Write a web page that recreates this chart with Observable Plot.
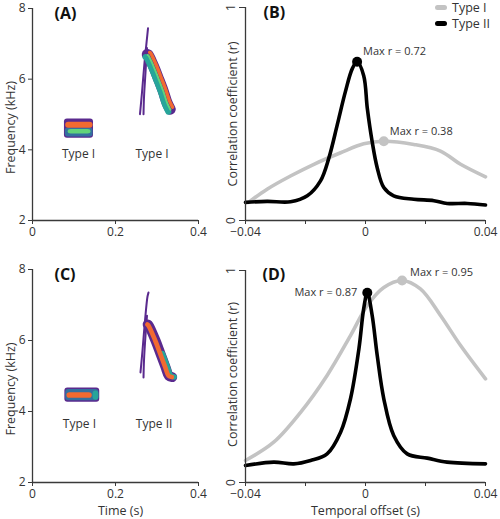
<!DOCTYPE html>
<html>
<head>
<meta charset="utf-8">
<script src="https://cdn.jsdelivr.net/npm/d3@7"></script>
<script src="https://cdn.jsdelivr.net/npm/@observablehq/plot@0.6"></script>
<style>
  body { margin: 0; background: #fff; }
  #wrap { position: relative; width: 500px; height: 519px; font-family: 'Open Sans', sans-serif; overflow: hidden; }
  #wrap > .panel { position: absolute; }
  .lg { position: absolute; left: 435px; font-size: 12.5px; line-height: 14px; color: #333; white-space: nowrap; }
  .sw { display: inline-block; width: 12px; height: 5px; border-radius: 3px; vertical-align: middle; margin-right: 5px; position: relative; top: -1px; }
</style>
</head>
<body>
<div id="wrap"></div>
<script>
// ---------------- data ----------------
const timeTicks = [0, 0.2, 0.4];
const freqTicks = [2, 4, 6, 8];
const offsetTicks = [-0.04, -0.02, 0, 0.02, 0.04];
const offsetLabelTicks = [-0.04, 0, 0.04];
const rTicks = [0, 1];
const seriesNames = ["Type I", "Type II"];

// Panel A spectrogram: first note (layered band), time (s) / frequency (kHz)
const A_note_layer = ["outline", "inner", "green", "orange"];
const A_note_t1 = [0.077, 0.079, 0.086, 0.080];
const A_note_t2 = [0.147, 0.146, 0.141, 0.146];
const A_note_f1 = [4.33, 4.36, 4.45, 4.61];
const A_note_f2 = [4.87, 4.62, 4.575, 4.78];
// Panel A second note: thin upsweep strokes + downsweep ridge
const A_up1_t = [0.259, 0.2639, 0.2699, 0.2759, 0.2783];
const A_up1_f = [5.01, 5.63, 6.47, 7.16, 7.44];
const A_up2_t = [0.2675, 0.2687, 0.2723, 0.2759];
const A_up2_f = [5.01, 5.49, 6.19, 6.88];
const A_ridge_t = [0.2765, 0.2783, 0.2904, 0.3024, 0.3145, 0.3246, 0.3318];
const A_ridge_f = [6.70, 6.69, 6.40, 6.05, 5.68, 5.32, 5.15];
const A_label_text = ["Type I", "Type I"];
const A_label_t = [0.111, 0.288];
const A_label_f = [3.87, 3.87];

// Panel C spectrogram
const C_note_layer = ["outline", "inner", "orange", "teal"];
const C_note_t1 = [0.078, 0.080, 0.083, 0.146];
const C_note_t2 = [0.162, 0.160, 0.144, 0.160];
const C_note_f1 = [4.26, 4.30, 4.37, 4.32];
const C_note_f2 = [4.66, 4.62, 4.53, 4.58];
const C_up1_t = [0.2602, 0.2651, 0.2711, 0.2771, 0.2795];
const C_up1_f = [5.10, 5.72, 6.56, 7.24, 7.35];
const C_up2_t = [0.2675, 0.2687, 0.2723, 0.2759];
const C_up2_f = [4.96, 5.44, 6.14, 6.70];
const C_ridge_t = [0.2775, 0.2802, 0.2964, 0.3084, 0.3205, 0.3284, 0.3366];
const C_ridge_f = [6.45, 6.42, 6.00, 5.63, 5.25, 5.01, 4.97];
const C_label_text = ["Type I", "Type II"];
const C_label_t = [0.113, 0.293];
const C_label_f = [3.63, 3.63];

// Panel B cross-correlation (temporal offset s, r)
const B_typeI_t = [-0.039, -0.0328, -0.025, -0.0172, -0.0083, -0.0006, 0.0061, 0.0161, 0.025, 0.0317, 0.04];
const B_typeI_r = [0.085, 0.147, 0.209, 0.264, 0.318, 0.36, 0.372, 0.357, 0.326, 0.264, 0.205];
const B_typeII_t = [-0.04, -0.0328, -0.025, -0.0194, -0.015, -0.0122, -0.0094, -0.0067, -0.0044, -0.0028, -0.0006, 0.0006, 0.0022, 0.0039, 0.0061, 0.0094, 0.0161, 0.0228, 0.0272, 0.0339, 0.04];
const B_typeII_r = [0.085, 0.09, 0.088, 0.116, 0.186, 0.294, 0.45, 0.605, 0.713, 0.745, 0.68, 0.527, 0.372, 0.248, 0.155, 0.116, 0.10, 0.093, 0.08, 0.08, 0.073];
const B_max_t = [0.0061, -0.0028];
const B_max_r = [0.372, 0.745];
const B_max_text = ["Max r = 0.38", "Max r = 0.72"];

// Panel D cross-correlation
const D_typeI_t = [-0.04, -0.0306, -0.0217, -0.0128, -0.005, 0.0006, 0.0061, 0.0122, 0.0183, 0.025, 0.0317, 0.04];
const D_typeI_r = [0.104, 0.19, 0.33, 0.505, 0.693, 0.835, 0.92, 0.953, 0.913, 0.788, 0.646, 0.489];
const D_typeII_t = [-0.04, -0.0306, -0.0239, -0.0183, -0.0128, -0.0083, -0.005, -0.0022, -0.0006, 0.0006, 0.0022, 0.0039, 0.0061, 0.0094, 0.0139, 0.0206, 0.0272, 0.04];
const D_typeII_r = [0.08, 0.096, 0.088, 0.104, 0.135, 0.237, 0.395, 0.63, 0.82, 0.895, 0.79, 0.60, 0.395, 0.222, 0.135, 0.115, 0.096, 0.088];
const D_max_t = [0.0122, 0.0006];
const D_max_r = [0.953, 0.895];
const D_max_text = ["Max r = 0.95", "Max r = 0.87"];

// ---------------- styles ----------------
const FONT = "'Open Sans', sans-serif";
const AXIS = "#3a3a3a";
const TXT = "#333";
const seriesColor = {"Type I": "#c3c3c3", "Type II": "#000000"};
const specColor = {outline: "#5a2a8e", inner: "#33709f", teal: "#27a59a", green: "#62d37a", orange: "#f26a30"};
const PURPLE = specColor.outline;

const pts = (t, f) => t.map((x, i) => ({t: x, v: f[i]}));
const numFmt = d => d === 0 ? "0" : (d < 0 ? "\u2212" + Math.abs(d) : String(d));

function rectRows(layer, t1, t2, f1, f2) {
  return layer.map((l, i) => ({layer: l, t1: t1[i], t2: t2[i], f1: f1[i], f2: f2[i]}));
}

function spectro(o) {
  const ridge = pts(o.ridgeT, o.ridgeF);
  const lineOpts = {x: "t", y: "v", curve: "catmull-rom", strokeLinecap: "round", strokeLinejoin: "round"};
  const ridgeMarks = o.ridgeLayers.map(L =>
    Plot.line(L.from ? ridge.slice(L.from) : ridge, {...lineOpts, stroke: specColor[L.c], strokeWidth: L.w, dx: L.dx || 0, dy: L.dy || 0}));
  return Plot.plot({
    width: 250, height: o.height,
    marginTop: o.mt, marginBottom: o.mb, marginLeft: 32, marginRight: 52,
    style: {background: "transparent", overflow: "visible", fontFamily: FONT, color: AXIS},
    x: {domain: [0, 0.4]},
    y: {domain: [2, 8]},
    marks: [
      Plot.rect(rectRows(o.layer, o.t1, o.t2, o.f1, o.f2), {x1: "t1", x2: "t2", y1: "f1", y2: "f2", fill: d => specColor[d.layer], rx: 3}),
      Plot.line(pts(o.up1T, o.up1F), {...lineOpts, stroke: PURPLE, strokeWidth: 2}),
      Plot.line(pts(o.up2T, o.up2F), {...lineOpts, stroke: PURPLE, strokeWidth: 2}),
      ...ridgeMarks,
      Plot.text(o.labelText, {x: (d, i) => o.labelT[i], y: (d, i) => o.labelF[i], text: d => d, fontSize: 12, fill: TXT, textAnchor: "middle", lineAnchor: "middle"}),
      Plot.ruleX([0], {stroke: AXIS, strokeWidth: 1.3}),
      Plot.ruleY([2], {stroke: AXIS, strokeWidth: 1.3}),
      Plot.axisX({ticks: timeTicks, tickSize: 4, tickPadding: o.xPad, fontSize: 12, tickFormat: numFmt, label: null, fill: TXT}),
      Plot.axisY({ticks: freqTicks, tickSize: 4, tickPadding: 3, fontSize: 12, tickFormat: numFmt, label: null, fill: TXT}),
      Plot.text(["Frequency (kHz)"], {frameAnchor: "left", dx: -22, dy: 13, rotate: -90, fontSize: 12.5, fill: TXT, textAnchor: "middle", lineAnchor: "middle"}),
      Plot.text([o.tag], {frameAnchor: "top-left", dx: o.tagDx, dy: o.tagDy, fontSize: 16, fontWeight: "bold", fill: "#111", textAnchor: "start", lineAnchor: "middle"}),
      ...(o.xTitle ? [Plot.text([o.xTitle], {frameAnchor: "bottom", dx: 5, dy: 28, fontSize: 12.5, fill: TXT, textAnchor: "middle", lineAnchor: "middle"})] : [])
    ]
  });
}

function corr(o) {
  const lineOpts = {x: "t", y: "v", curve: "catmull-rom", strokeLinecap: "round", strokeLinejoin: "round", strokeWidth: 3.6};
  const maxRows = seriesNames.map((s, i) => ({s, t: o.maxT[i], v: o.maxR[i], text: o.maxText[i]}));
  const maxLabels = maxRows.map((row, i) =>
    Plot.text([row], {x: "t", y: "v", text: "text", fontSize: 11, fill: TXT,
      textAnchor: o.anchor[i], dx: o.ldx[i], dy: o.ldy[i], lineAnchor: "middle"}));
  return Plot.plot({
    width: 300, height: o.height,
    marginTop: o.mt, marginBottom: o.mb, marginLeft: 45, marginRight: 15,
    style: {background: "transparent", overflow: "visible", fontFamily: FONT, color: AXIS},
    x: {domain: [-0.04, 0.04]},
    y: {domain: [0, 1]},
    marks: [
      Plot.line(pts(o.t1, o.r1), {...lineOpts, stroke: seriesColor["Type I"]}),
      Plot.line(pts(o.t2, o.r2), {...lineOpts, stroke: seriesColor["Type II"]}),
      Plot.dot(maxRows, {x: "t", y: "v", r: 5, fill: d => seriesColor[d.s], stroke: null}),
      ...maxLabels,
      Plot.ruleX([-0.04], {stroke: AXIS, strokeWidth: 1.3}),
      Plot.ruleY([0], {stroke: AXIS, strokeWidth: 1.3}),
      Plot.axisX({ticks: offsetTicks, tickSize: 4, tickPadding: o.xPad, fontSize: 12, label: null, fill: TXT,
        tickFormat: d => offsetLabelTicks.includes(d) ? numFmt(d) : ""}),
      Plot.axisY({ticks: rTicks, tickSize: 6, tickFormat: () => "", label: null}),
      Plot.text(rTicks, {x: -0.04, y: d => d, text: d => String(d), dx: -14, rotate: -90, fontSize: 12, fill: TXT, textAnchor: "middle", lineAnchor: "middle"}),
      Plot.text(["Correlation coefficient (r)"], {frameAnchor: "left", dx: -13, dy: o.yTitleDy, rotate: -90, fontSize: 12.5, fill: TXT, textAnchor: "middle", lineAnchor: "middle"}),
      Plot.text([o.tag], {frameAnchor: "top-left", dx: o.tagDx, dy: o.tagDy, fontSize: 16, fontWeight: "bold", fill: "#111", textAnchor: "start", lineAnchor: "middle"}),
      ...(o.xTitle ? [Plot.text([o.xTitle], {frameAnchor: "bottom", dx: 0, dy: 28, fontSize: 12.5, fill: TXT, textAnchor: "middle", lineAnchor: "middle"})] : [])
    ]
  });
}

const wrap = document.getElementById("wrap");
function place(node, left, top) {
  const d = document.createElement("div");
  d.className = "panel";
  d.style.left = left + "px";
  d.style.top = top + "px";
  d.appendChild(node);
  wrap.appendChild(d);
}

place(spectro({
  height: 260, mt: 8, mb: 40, xPad: 3, tag: "(A)", tagDx: 22, tagDy: 5,
  layer: A_note_layer, t1: A_note_t1, t2: A_note_t2, f1: A_note_f1, f2: A_note_f2,
  up1T: A_up1_t, up1F: A_up1_f, up2T: A_up2_t, up2F: A_up2_f,
  ridgeT: A_ridge_t, ridgeF: A_ridge_f,
  ridgeLayers: [
    {c: "outline", w: 11},
    {c: "teal", w: 6, dx: -1.8, dy: 2.5},
    {c: "green", w: 2, dx: 0.3, dy: 0.5},
    {c: "orange", w: 3.4, dx: 2.4, dy: -2}
  ],
  labelText: A_label_text, labelT: A_label_t, labelF: A_label_f
}), 0, 0);

place(corr({
  height: 260, mt: 7, mb: 40, xPad: 3, tag: "(B)", tagDx: 18, tagDy: 5.5, yTitleDy: 0,
  t1: B_typeI_t, r1: B_typeI_r, t2: B_typeII_t, r2: B_typeII_r,
  maxT: B_max_t, maxR: B_max_r, maxText: B_max_text,
  anchor: ["start", "start"], ldx: [6, 6], ldy: [-10, -10]
}), 200, 0);

place(spectro({
  height: 259, mt: 9, mb: 37, xPad: 3, tag: "(C)", tagDx: 22, tagDy: 5, xTitle: "Time (s)",
  layer: C_note_layer, t1: C_note_t1, t2: C_note_t2, f1: C_note_f1, f2: C_note_f2,
  up1T: C_up1_t, up1F: C_up1_f, up2T: C_up2_t, up2F: C_up2_f,
  ridgeT: C_ridge_t, ridgeF: C_ridge_f,
  ridgeLayers: [
    {c: "outline", w: 10},
    {c: "teal", w: 5.5, dx: 2, dy: 0, from: 3},
    {c: "orange", w: 4.6, dx: -0.3, dy: 0}
  ],
  labelText: C_label_text, labelT: C_label_t, labelF: C_label_f
}), 0, 260);

place(corr({
  height: 259, mt: 10, mb: 37, xPad: 3, tag: "(D)", tagDx: 17, tagDy: 4, yTitleDy: -2, xTitle: "Temporal offset (s)",
  t1: D_typeI_t, r1: D_typeI_r, t2: D_typeII_t, r2: D_typeII_r,
  maxT: D_max_t, maxR: D_max_r, maxText: D_max_text,
  anchor: ["start", "end"], ldx: [8, -10], ldy: [-8, 0]
}), 200, 260);

// legend
seriesNames.forEach((s, i) => {
  const row = document.createElement("div");
  row.className = "lg";
  row.style.top = (i === 0 ? 1 : 17) + "px";
  const sw = document.createElement("span");
  sw.className = "sw";
  sw.style.background = seriesColor[s];
  row.appendChild(sw);
  row.appendChild(document.createTextNode(s));
  wrap.appendChild(row);
});
</script>
</body>
</html>
